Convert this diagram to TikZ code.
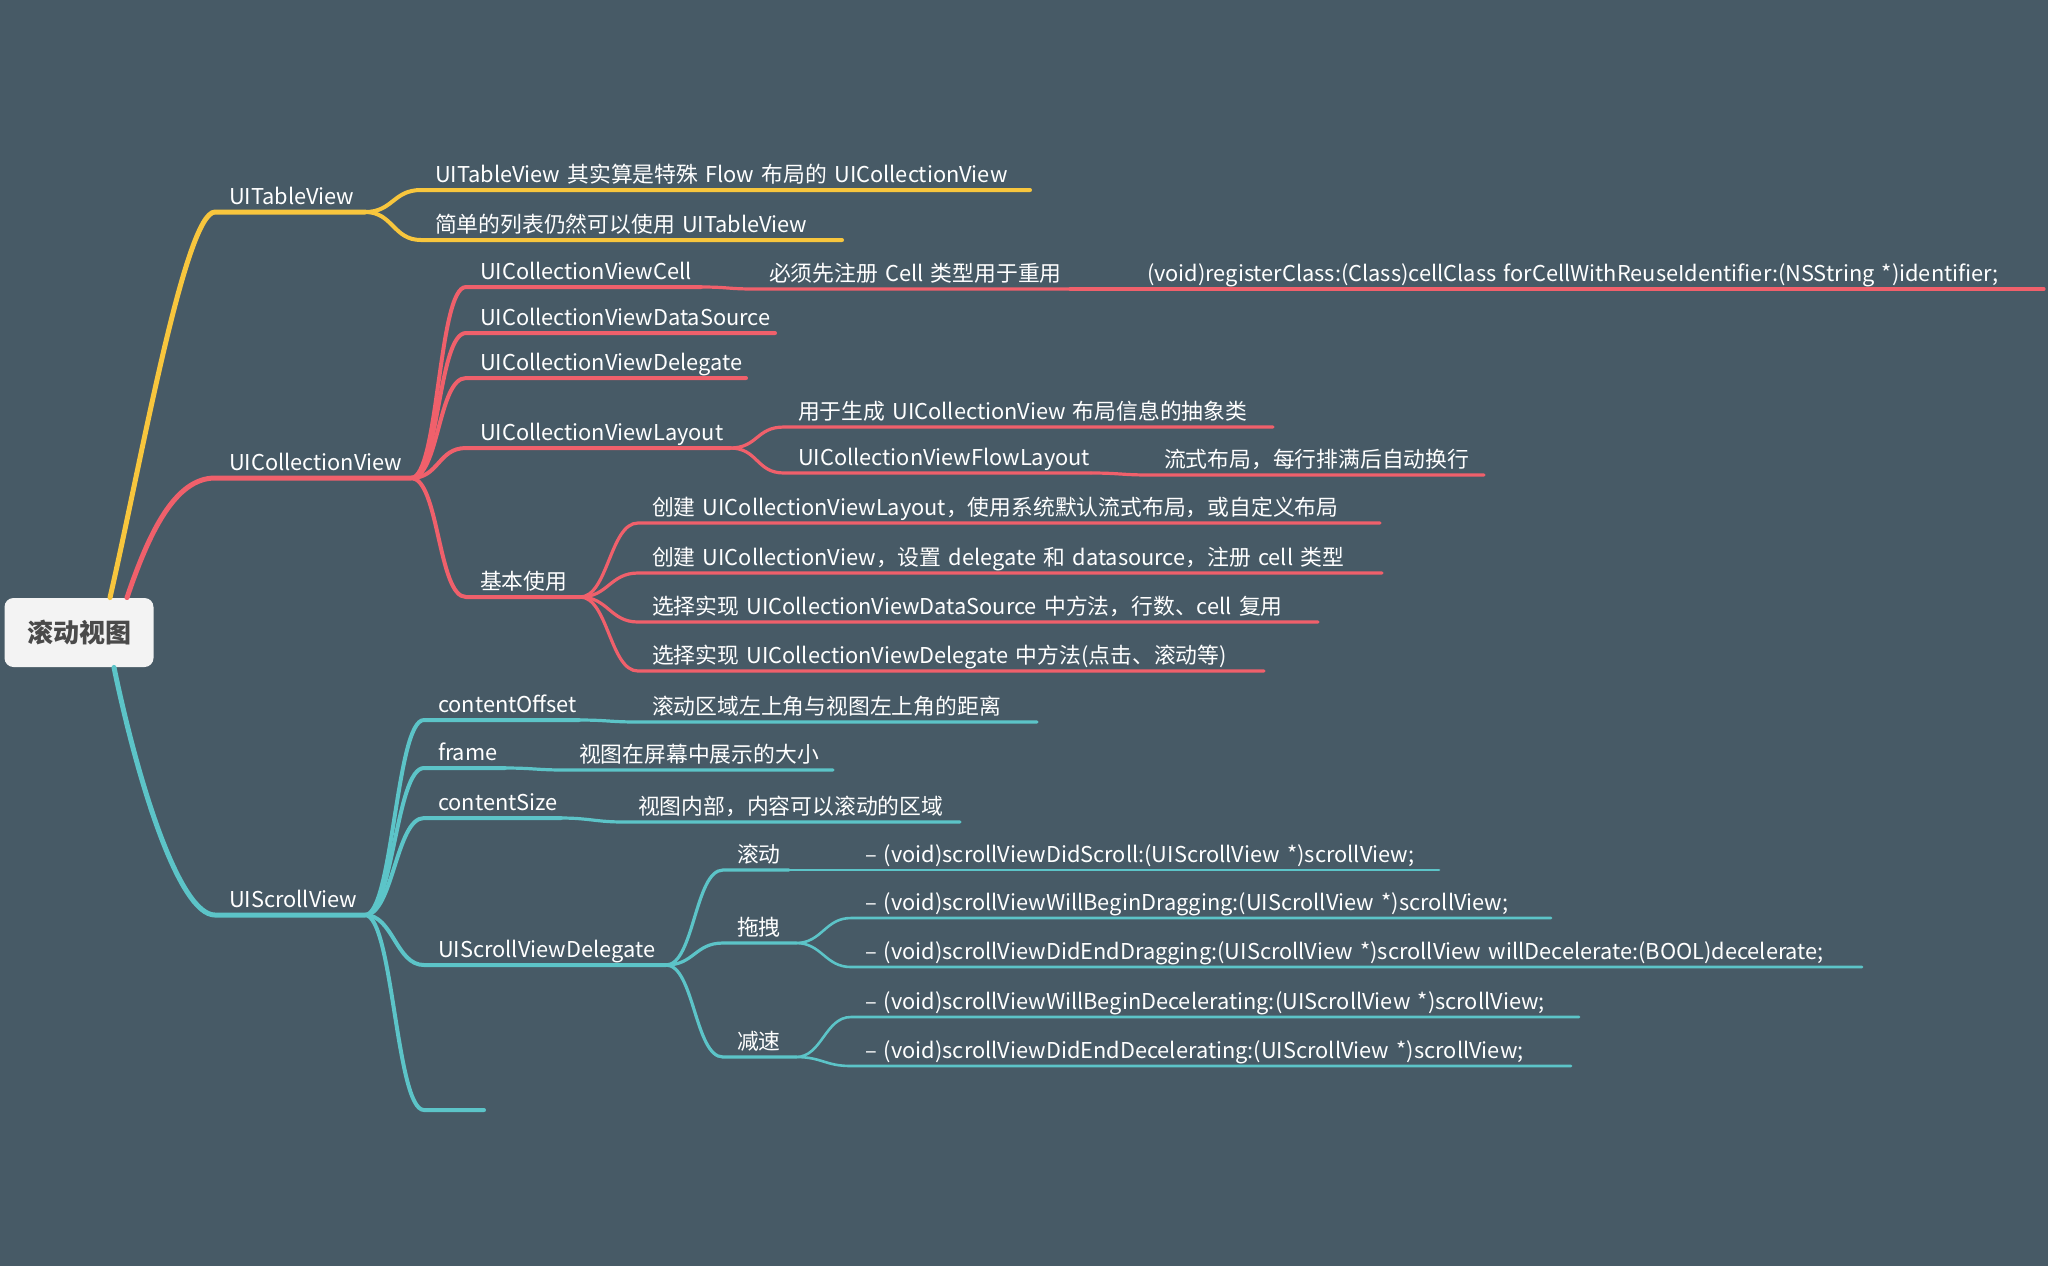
\documentclass[tikz,border=0pt]{standalone}
\usepackage{fontspec}
\setmainfont{Noto Sans CJK SC}
\usepackage{tikz}
\definecolor{bgslate}{HTML}{475A66}
\definecolor{mmYellow}{HTML}{F8C63D}
\definecolor{mmRed}{HTML}{F0606B}
\definecolor{mmTeal}{HTML}{5CC4C8}
\definecolor{rootfill}{HTML}{F3F3F3}
\definecolor{roottext}{HTML}{4A4A4A}

\begin{document}
\begin{tikzpicture}[x=0.5pt,y=-0.5pt,
  root/.style={fill=rootfill,rounded corners=4.5pt,minimum width=74.5pt,minimum height=34.5pt,text=roottext,font=\fontsize{13}{15}\selectfont\bfseries},
  topic/.style={anchor=south west,inner xsep=0pt,inner ysep=1.5pt,outer sep=0pt,text height=8pt,text depth=2.5pt,align=left,text=white,font=\fontsize{10.9}{13}\selectfont,execute at begin node={\noindent\hspace*{7pt}\hbox\bgroup},execute at end node={\egroup}},
  l1/.style={line width=2.5pt,line cap=round},
  l2/.style={line width=2pt,line cap=round},
  l3/.style={line width=1.6pt,line cap=round},
  l4/.style={line width=1.3pt,line cap=round}]

\useasboundingbox (0,0) rectangle (2048,1266);
\fill[bgslate] (0,0) rectangle (2048,1266);

% root
\node[root] (root) at (79,632.5) {滚动视图};

% UITableView
\node[topic,text width=75pt] (tv) at (215,212) {UITableView};
\node[topic,text width=304.5pt] (tvflow) at (421,190) {UITableView 其实算是特殊 Flow 布局的 UICollectionView};
\node[topic,text width=210.5pt] (tvlist) at (421,240) {简单的列表仍然可以使用 UITableView};

% UICollectionView
\node[topic,text width=98pt] (cv) at (215,478) {UICollectionView};
\node[topic,text width=117.5pt] (cell) at (466,287) {UICollectionViewCell};
\node[topic,text width=157.5pt] (cellreg) at (755,289) {必须先注册 Cell 类型用于重用};
\node[topic,text width=455.5pt] (cellapi) at (1133,289) {(void)registerClass:(Class)cellClass forCellWithReuseIdentifier:(NSString *)identifier;};
\node[topic,text width=154.5pt] (cvds) at (466,333) {UICollectionViewDataSource};
\node[topic,text width=140pt] (cvdg) at (466,378) {UICollectionViewDelegate};
\node[topic,text width=132pt] (layout) at (466,448) {UICollectionViewLayout};
\node[topic,text width=244.5pt] (abstract) at (784,427) {用于生成 UICollectionView 布局信息的抽象类};
\node[topic,text width=153.5pt] (flow) at (784,473) {UICollectionViewFlowLayout};
\node[topic,text width=167pt] (flowwrap) at (1150,475) {流式布局，每行排满后自动换行};
\node[topic,text width=57pt] (basic) at (466,597) {基本使用};
\node[topic,text width=371pt] (stepa) at (638,523) {创建 UICollectionViewLayout，使用系统默认流式布局，或自定义布局};
\node[topic,text width=372pt] (stepb) at (638,573) {创建 UICollectionView，设置 delegate 和 datasource，注册 cell 类型};
\node[topic,text width=340pt] (stepc) at (638,622) {选择实现 UICollectionViewDataSource 中方法，行数、cell 复用};
\node[topic,text width=313pt] (stepd) at (638,671) {选择实现 UICollectionViewDelegate 中方法(点击、滚动等)};

% UIScrollView
\node[topic,text width=75pt] (sv) at (215,915) {UIScrollView};
\node[topic,text width=77.5pt] (offset) at (424,720) {contentOffset};
\node[topic,text width=199.5pt] (offsetdesc) at (638,722) {滚动区域左上角与视图左上角的距离};
\node[topic,text width=40.5pt] (frame) at (424,768) {frame};
\node[topic,text width=134pt] (framedesc) at (565,770) {视图在屏幕中展示的大小};
\node[topic,text width=68.5pt] (size) at (424,818) {contentSize};
\node[topic,text width=168pt] (sizedesc) at (624,822) {视图内部，内容可以滚动的区域};
\node[topic,text width=121pt] (svdg) at (424,965) {UIScrollViewDelegate};
\node[topic,text width=33pt] (scroll) at (723,870) {滚动};
\node[topic,text width=294pt] (didscroll) at (851,870) {– (void)scrollViewDidScroll:(UIScrollView *)scrollView;};
\node[topic,text width=36.5pt] (drag) at (723,943) {拖拽};
\node[topic,text width=350pt] (begindrag) at (851,918) {– (void)scrollViewWillBeginDragging:(UIScrollView *)scrollView;};
\node[topic,text width=505.5pt] (enddrag) at (851,967) {– (void)scrollViewDidEndDragging:(UIScrollView *)scrollView willDecelerate:(BOOL)decelerate;};
\node[topic,text width=36.5pt] (decel) at (723,1057) {减速};
\node[topic,text width=364pt] (begindecel) at (851,1017) {– (void)scrollViewWillBeginDecelerating:(UIScrollView *)scrollView;};
\node[topic,text width=360pt] (enddecel) at (851,1066) {– (void)scrollViewDidEndDecelerating:(UIScrollView *)scrollView;};
\node[topic,text width=30pt] (blank) at (424,1110) {};

% yellow branch
\draw[mmYellow,l1] ([xshift=15.5pt]root.north) .. controls +(30,-130) and +(-30,0) .. (tv.south west) -- (tv.south east);
\draw[mmYellow,l2] (tv.south east) .. controls +(28,0) and +(-28,0) .. (tvflow.south west) -- (tvflow.south east);
\draw[mmYellow,l2] (tv.south east) .. controls +(28,0) and +(-28,0) .. (tvlist.south west) -- (tvlist.south east);

% red branch
\draw[mmRed,l1] ([xshift=24pt]root.north) .. controls +(22,-65) and +(-40,0) .. (cv.south west) -- (cv.south east);
\draw[mmRed,l2] (cv.south east) .. controls +(28,0) and +(-28,0) .. (cell.south west) -- (cell.south east);
\draw[mmRed,l2] (cv.south east) .. controls +(28,0) and +(-28,0) .. (cvds.south west) -- (cvds.south east);
\draw[mmRed,l2] (cv.south east) .. controls +(28,0) and +(-28,0) .. (cvdg.south west) -- (cvdg.south east);
\draw[mmRed,l2] (cv.south east) .. controls +(28,0) and +(-28,0) .. (layout.south west) -- (layout.south east);
\draw[mmRed,l2] (cv.south east) .. controls +(28,0) and +(-28,0) .. (basic.south west) -- (basic.south east);
\draw[mmRed,l3] (cell.south east) .. controls +(28,0) and +(-28,0) .. (cellreg.south west) -- (cellreg.south east);
\draw[mmRed,l3] (cellreg.south east) -- (cellapi.south west) -- (cellapi.south east);
\draw[mmRed,l3] (layout.south east) .. controls +(28,0) and +(-28,0) .. (abstract.south west) -- (abstract.south east);
\draw[mmRed,l3] (layout.south east) .. controls +(28,0) and +(-28,0) .. (flow.south west) -- (flow.south east);
\draw[mmRed,l3] (flow.south east) .. controls +(28,0) and +(-28,0) .. (flowwrap.south west) -- (flowwrap.south east);
\draw[mmRed,l3] (basic.south east) .. controls +(28,0) and +(-28,0) .. (stepa.south west) -- (stepa.south east);
\draw[mmRed,l3] (basic.south east) .. controls +(28,0) and +(-28,0) .. (stepb.south west) -- (stepb.south east);
\draw[mmRed,l3] (basic.south east) .. controls +(28,0) and +(-28,0) .. (stepc.south west) -- (stepc.south east);
\draw[mmRed,l3] (basic.south east) .. controls +(28,0) and +(-28,0) .. (stepd.south west) -- (stepd.south east);

% teal branch
\draw[mmTeal,l1] ([xshift=17.5pt]root.south) .. controls +(25,120) and +(-35,0) .. (sv.south west) -- (sv.south east);
\draw[mmTeal,l2] (sv.south east) .. controls +(28,0) and +(-28,0) .. (offset.south west) -- (offset.south east);
\draw[mmTeal,l2] (sv.south east) .. controls +(28,0) and +(-28,0) .. (frame.south west) -- (frame.south east);
\draw[mmTeal,l2] (sv.south east) .. controls +(28,0) and +(-28,0) .. (size.south west) -- (size.south east);
\draw[mmTeal,l2] (sv.south east) .. controls +(28,0) and +(-28,0) .. (svdg.south west) -- (svdg.south east);
\draw[mmTeal,l2] (sv.south east) .. controls +(28,0) and +(-28,0) .. (blank.south west) -- (blank.south east);
\draw[mmTeal,l3] (offset.south east) .. controls +(28,0) and +(-28,0) .. (offsetdesc.south west) -- (offsetdesc.south east);
\draw[mmTeal,l3] (frame.south east) .. controls +(28,0) and +(-28,0) .. (framedesc.south west) -- (framedesc.south east);
\draw[mmTeal,l3] (size.south east) .. controls +(28,0) and +(-28,0) .. (sizedesc.south west) -- (sizedesc.south east);
\draw[mmTeal,l3] (svdg.south east) .. controls +(28,0) and +(-28,0) .. (scroll.south west) -- (scroll.south east);
\draw[mmTeal,l3] (svdg.south east) .. controls +(28,0) and +(-28,0) .. (drag.south west) -- (drag.south east);
\draw[mmTeal,l3] (svdg.south east) .. controls +(28,0) and +(-28,0) .. (decel.south west) -- (decel.south east);
\draw[mmTeal,l4] (scroll.south east) -- (didscroll.south west) -- (didscroll.south east);
\draw[mmTeal,l4] (drag.south east) .. controls +(26,0) and +(-26,0) .. (begindrag.south west) -- (begindrag.south east);
\draw[mmTeal,l4] (drag.south east) .. controls +(26,0) and +(-26,0) .. (enddrag.south west) -- (enddrag.south east);
\draw[mmTeal,l4] (decel.south east) .. controls +(26,0) and +(-26,0) .. (begindecel.south west) -- (begindecel.south east);
\draw[mmTeal,l4] (decel.south east) .. controls +(26,0) and +(-26,0) .. (enddecel.south west) -- (enddecel.south east);
\end{tikzpicture}
\end{document}
